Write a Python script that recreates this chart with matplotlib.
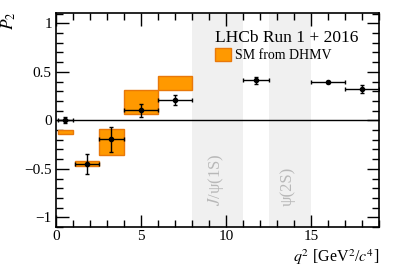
import matplotlib
matplotlib.use('Agg')
import matplotlib.pyplot as plt
from matplotlib.patches import Patch
from matplotlib.ticker import MultipleLocator

plt.rcParams['font.family'] = ['Liberation Serif', 'DejaVu Serif']
plt.rcParams['mathtext.fontset'] = 'stix'

# measured P2 per q2 bin
bin_lo = [0.1, 1.1, 2.5, 4.0, 6.0, 11.0, 15.0, 17.0]
bin_hi = [0.98, 2.5, 4.0, 6.0, 8.0, 12.5, 17.0, 19.0]
p2 = [0.0, -0.448, -0.196, 0.103, 0.207, 0.414, 0.396, 0.328]
err_up = [0.03, 0.10, 0.125, 0.07, 0.052, 0.035, 0.01, 0.034]
err_dn = [0.03, 0.107, 0.128, 0.07, 0.052, 0.035, 0.01, 0.042]

# SM prediction (DHMV) boxes
sm_lo_x = [0.1, 1.1, 2.5, 4.0, 6.0]
sm_hi_x = [0.98, 2.5, 4.0, 6.0, 8.0]
sm_lo = [-0.138, -0.469, -0.359, 0.069, 0.31]
sm_hi = [-0.103, -0.42, -0.086, 0.31, 0.455]

# charmonium vetoes
veto_lo = [8.0, 12.5]
veto_hi = [11.0, 15.0]
veto_txt = [r'$J$/ψ(1S)', 'ψ(2S)']

fig = plt.figure(figsize=(3.99, 2.71), dpi=100)
ax = fig.add_axes([0.1404, 0.1624, 0.8096, 0.7896])

for lo, hi, t in zip(veto_lo, veto_hi, veto_txt):
    ax.axvspan(lo, hi, color='#f0f0f0', lw=0, zorder=0)
    ax.text((lo + hi) / 2 - 0.1, -0.88, t, rotation=90, ha='center', va='bottom',
            color='#b8b8b8', fontsize=12)

for x0, x1, y0, y1 in zip(sm_lo_x, sm_hi_x, sm_lo, sm_hi):
    ax.add_patch(plt.Rectangle((x0, y0), x1 - x0, y1 - y0, facecolor='#ff9900',
                               edgecolor='#e8780a', lw=1, zorder=2))

ax.axhline(0, color='black', lw=1, zorder=1)

xc = [(a + b) / 2 for a, b in zip(bin_lo, bin_hi)]
xe = [(b - a) / 2 for a, b in zip(bin_lo, bin_hi)]
ax.errorbar(xc, p2, xerr=xe, yerr=[err_dn, err_up], fmt='o', color='black',
            ms=3, lw=1, capsize=1.5, capthick=1, zorder=3)

ax.set_xlim(0, 19)
ax.set_ylim(-1.1, 1.107)
ax.xaxis.set_minor_locator(MultipleLocator(1))
ax.yaxis.set_minor_locator(MultipleLocator(0.1))
ax.set_yticks([-1, -0.5, 0, 0.5, 1])
ax.set_yticklabels(['\u22121', '\u22120.5', '0', '0.5', '1'])
ax.set_xticks([0, 5, 10, 15])
ax.set_xticklabels(['0', '5', '10', '15'])
ax.tick_params(which='both', direction='in', top=True, right=True, labelsize=11, width=1)
ax.tick_params(which='major', length=9, pad=3)
ax.tick_params(axis='x', which='major', pad=2)
ax.tick_params(which='minor', length=5)
for s in ax.spines.values():
    s.set_linewidth(1.2)

fig.text(379 / 399, 1 - 262 / 271, r'$q^2$ [GeV$^2$/$c^4$]', ha='right', va='baseline', fontsize=11.5)
fig.text(9 / 399, 1 - 21 / 271, r'$P_2$', rotation=90, ha='center', va='center', fontsize=12.5)

ax.text(0.492, 0.885, 'LHCb Run 1 + 2016', transform=ax.transAxes, ha='left', va='center',
        fontsize=12.5)
ax.legend(handles=[Patch(facecolor='#ff9900', edgecolor='#e8780a')], labels=['SM from DHMV'],
          loc='upper left', bbox_to_anchor=(0.492, 0.835), frameon=False, fontsize=10,
          handlelength=1.15, handleheight=1.05, handletextpad=0.3, borderpad=0, borderaxespad=0)

fig.savefig('out.png', dpi=100)
